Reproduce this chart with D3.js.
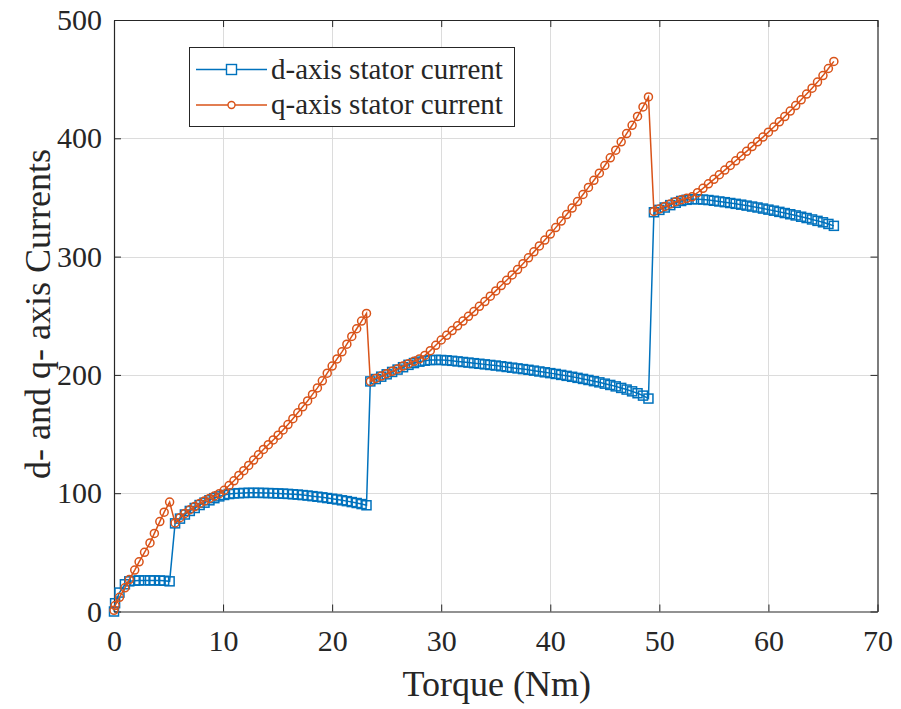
<!DOCTYPE html>
<html>
<head>
<meta charset="utf-8">
<script src="https://cdn.jsdelivr.net/npm/d3@7"></script>
<style>
  html, body { margin: 0; padding: 0; background: #ffffff; }
  svg { display: block; }
</style>
</head>
<body>
<div id="chart"></div>
<script>
// ---------------- data ----------------
const torque = [
  0, 0.1, 0.5, 1.0, 1.4, 1.9, 2.3, 2.8, 3.3, 3.7, 4.2, 4.6, 5.1,
  5.6, 6.05, 6.5, 6.95, 7.4, 7.85, 8.3, 8.75, 9.2, 9.65,
  10.1, 10.55, 11.0, 11.45, 11.9, 12.35, 12.8, 13.25, 13.7, 14.15,
  14.6, 15.05, 15.5, 15.95, 16.4, 16.85, 17.3, 17.75, 18.2, 18.65,
  19.1, 19.55, 20.0, 20.45, 20.9, 21.35, 21.8, 22.25, 22.7, 23.15,
  23.5, 24, 24.5, 25, 25.5, 26, 26.5, 27, 27.5, 28, 28.5, 29, 29.5,
  30, 30.5, 31, 31.5, 32, 32.5, 33, 33.5, 34, 34.5, 35, 35.5, 36,
  36.5, 37, 37.5, 38, 38.5, 39, 39.5, 40, 40.5, 41, 41.5, 42, 42.5,
  43, 43.5, 44, 44.5, 45, 45.5, 46, 46.5, 47, 47.5, 48, 48.5, 49,
  49.5, 50, 50.5, 51, 51.5, 52, 52.5, 53, 53.5, 54, 54.5, 55, 55.5,
  56, 56.5, 57, 57.5, 58, 58.5, 59, 59.5, 60, 60.5, 61, 61.5, 62,
  62.5, 63, 63.5, 64, 64.5, 65, 65.5, 66
];

const dCurrent = [
  0, 7, 16, 23, 25.5, 26, 26.3, 26.3, 26.3, 26.3, 26.2, 26, 25.5,
  74.5, 78.5, 82, 85, 87.5, 90, 92, 94, 95.8, 97.3,
  98.5, 99.3, 99.8, 100, 100.2, 100.3, 100.3, 100.3, 100.2, 100.1,
  100, 99.8, 99.6, 99.4, 99.1, 98.8, 98.4, 98, 97.5, 97,
  96.5, 95.9, 95.3, 94.7, 94, 93.3, 92.5, 91.7, 90.8, 89.8,
  194.5, 196.5, 198.5, 200.5, 202.5, 204.5, 206.5, 208.5, 210, 211.2, 212, 212.5, 212.7,
  212.6, 212.3, 211.9, 211.4, 210.9, 210.4, 209.9, 209.4, 208.9, 208.4, 207.9, 207.3, 206.7,
  206.1, 205.5, 204.9, 204.3, 203.6, 202.9, 202.2, 201.5, 200.8, 200, 199.2, 198.4, 197.5,
  196.6, 195.7, 194.7, 193.7, 192.6, 191.5, 190.3, 189, 187.6, 186.1, 184.5, 182.5, 180,
  337.5, 339.5, 341.5, 343.5, 345.5, 347, 348, 348.5, 348.5, 348.2, 347.8, 347.2, 346.6,
  346, 345.3, 344.6, 343.9, 343.1, 342.3, 341.5, 340.6, 339.7, 338.8, 337.8, 336.8, 335.8,
  334.8, 333.7, 332.6, 331.4, 330.2, 329, 327.6, 326
];

const qCurrent = [
  1, 5, 12, 20, 27, 35, 42, 50, 58, 66, 76, 84, 92.5,
  74.8, 79.3, 82.9, 86, 88.7, 91.3, 93.5, 95.6, 97.6, 99.6,
  102.5, 106.5, 110.5, 115, 119, 123.5, 128, 132.5, 137, 141,
  145, 149, 153.5, 158, 163, 168, 173, 178, 183.5, 189,
  195, 201.5, 207.5, 213.5, 219.5, 226, 232.5, 239, 245.5, 252,
  194.5, 197, 199, 201, 203, 205, 207.5, 209.5, 211.5, 213.5, 216.5, 220.5, 225,
  229.5, 233.5, 237.5, 241.5, 245.5, 249.5, 253.5, 258, 262, 266.5, 271, 275.5, 280,
  284.5, 289, 294, 299, 304, 309, 314, 319, 324.5, 330, 335.5, 341, 346.5,
  352.5, 358.5, 364.5, 370.5, 377, 383.5, 390, 397, 404, 411, 418.5, 426.5, 435,
  338.2, 340.3, 342.4, 344.5, 346.4, 348, 349.3, 350.5, 354, 357.7, 361.5, 365.3, 369.2,
  373.1, 377, 381, 385, 389, 393, 397, 401, 405.2, 409.5, 413.9, 418.4, 423,
  427.7, 432.5, 437.4, 442.4, 447.5, 453, 459, 465
];

const xTicks = [0, 10, 20, 30, 40, 50, 60, 70];
const yTicks = [0, 100, 200, 300, 400, 500];
const seriesNames = ["d-axis stator current", "q-axis stator current"];
const xLabel = "Torque (Nm)";
const yLabel = "d- and q- axis Currents";

// ---------------- layout ----------------
const W = 901, H = 709;
const plot = { left: 114, right: 877.5, top: 20, bottom: 611.5 };
const colBlue = "#0072BD", colOrange = "#D95319", axisCol = "#262626";
const serif = "'Liberation Serif', 'Times New Roman', serif";

const x = d3.scaleLinear().domain([0, 70]).range([plot.left, plot.right]);
const y = d3.scaleLinear().domain([0, 500]).range([plot.bottom, plot.top]);

const svg = d3.select("#chart").append("svg")
  .attr("width", W).attr("height", H)
  .style("background", "#ffffff");

// grid
const grid = svg.append("g").attr("stroke", "#dcdcdc").attr("stroke-width", 1);
grid.selectAll("line.gx").data(xTicks.slice(1, -1)).join("line")
  .attr("x1", d => Math.round(x(d)) + 0.5).attr("x2", d => Math.round(x(d)) + 0.5)
  .attr("y1", plot.top).attr("y2", plot.bottom);
grid.selectAll("line.gy").data(yTicks.slice(1, -1)).join("line")
  .attr("y1", d => Math.round(y(d)) + 0.5).attr("y2", d => Math.round(y(d)) + 0.5)
  .attr("x1", plot.left).attr("x2", plot.right);

// axes
function styleAxis(g) {
  g.selectAll("path.domain").attr("stroke", axisCol).attr("stroke-width", 1.2);
  g.selectAll(".tick line").attr("stroke", axisCol).attr("stroke-width", 1);
  g.selectAll("text").attr("fill", axisCol).style("font-family", serif).style("font-size", "30px");
}
svg.append("g").attr("transform", `translate(0,${plot.bottom})`)
  .call(d3.axisBottom(x).tickValues(xTicks).tickSize(-7).tickSizeOuter(0).tickPadding(18))
  .call(styleAxis);
svg.append("g").attr("transform", `translate(${plot.left},0)`)
  .call(d3.axisLeft(y).tickValues(yTicks).tickSize(-7).tickSizeOuter(0).tickPadding(12))
  .call(styleAxis);
svg.append("g").attr("transform", `translate(0,${plot.top})`)
  .call(d3.axisTop(x).tickValues(xTicks).tickSize(-7).tickSizeOuter(0).tickFormat(""))
  .call(styleAxis);
svg.append("g").attr("transform", `translate(${plot.right},0)`)
  .call(d3.axisRight(y).tickValues(yTicks).tickSize(-7).tickSizeOuter(0).tickFormat(""))
  .call(styleAxis);

// axis labels
svg.append("text").attr("x", (plot.left + plot.right) / 2 + 1).attr("y", 696)
  .attr("text-anchor", "middle").attr("fill", axisCol)
  .style("font-family", serif).style("font-size", "36px").text(xLabel);
svg.append("text").attr("transform", `translate(50,${314}) rotate(-90)`)
  .attr("text-anchor", "middle").attr("fill", axisCol)
  .style("font-family", serif).style("font-size", "36px").text(yLabel);

// series
const pts = torque.map((t, i) => ({ t, d: dCurrent[i], q: qCurrent[i] }));
const lineD = d3.line().x(p => x(p.t)).y(p => y(p.d));
const lineQ = d3.line().x(p => x(p.t)).y(p => y(p.q));

svg.append("path").datum(pts).attr("d", lineD)
  .attr("fill", "none").attr("stroke", colBlue).attr("stroke-width", 1.5);
svg.append("g").selectAll("rect").data(pts).join("rect")
  .attr("x", p => x(p.t) - 4.5).attr("y", p => y(p.d) - 4.5)
  .attr("width", 9).attr("height", 9)
  .attr("fill", "none").attr("stroke", colBlue).attr("stroke-width", 1.5);

svg.append("path").datum(pts).attr("d", lineQ)
  .attr("fill", "none").attr("stroke", colOrange).attr("stroke-width", 1.5);
svg.append("g").selectAll("circle").data(pts).join("circle")
  .attr("cx", p => x(p.t)).attr("cy", p => y(p.q)).attr("r", 4)
  .attr("fill", "none").attr("stroke", colOrange).attr("stroke-width", 1.5);

// legend
const lg = svg.append("g");
lg.append("rect").attr("x", 189.5).attr("y", 47.5).attr("width", 325).attr("height", 79)
  .attr("fill", "#ffffff").attr("stroke", axisCol).attr("stroke-width", 1);
const legendItems = [
  { name: seriesNames[0], color: colBlue, shape: "square", cy: 69.5 },
  { name: seriesNames[1], color: colOrange, shape: "circle", cy: 105 }
];
legendItems.forEach(it => {
  lg.append("line").attr("x1", 196).attr("x2", 267).attr("y1", it.cy).attr("y2", it.cy)
    .attr("stroke", it.color).attr("stroke-width", 1.5);
  if (it.shape === "square") {
    lg.append("rect").attr("x", 231.5 - 5).attr("y", it.cy - 5).attr("width", 10).attr("height", 10)
      .attr("fill", "#ffffff").attr("stroke", it.color).attr("stroke-width", 1.4);
  } else {
    lg.append("circle").attr("cx", 231.5).attr("cy", it.cy).attr("r", 3.5)
      .attr("fill", "#ffffff").attr("stroke", it.color).attr("stroke-width", 1.4);
  }
  lg.append("text").attr("x", 271).attr("y", it.cy + 9)
    .attr("fill", axisCol).style("font-family", serif).style("font-size", "29px")
    .text(it.name);
});
</script>
</body>
</html>
